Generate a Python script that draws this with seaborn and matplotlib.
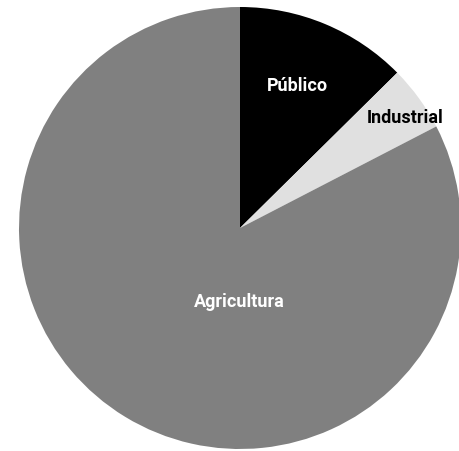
import matplotlib
matplotlib.use('Agg')
from matplotlib import pyplot as plt
import seaborn as sns

# water use share (%), clockwise from the top
sectors = ['Público', 'Industrial', 'Agricultura']
shares = [12.6, 4.8, 82.6]
colors = ['#000000', '#e0e0e0', '#808080']
label_colors = ['white', 'black', 'white']

sns.set_theme(style='white')
plt.rcParams['font.family'] = ['Roboto', 'DejaVu Sans']

fig = plt.figure(figsize=(4.6, 4.52), dpi=100)
ax = fig.add_axes([19 / 460, 2 / 452, 442 / 460, 442 / 452])

wedges, _ = ax.pie(shares, colors=colors, startangle=90, counterclock=False,
                   radius=1, wedgeprops={'linewidth': 0})

# label spots (data coords, unit circle)
label_pos = [(0.262, 0.647), (0.747, 0.502), (-0.005, -0.33)]
for name, (x, y), c in zip(sectors, label_pos, label_colors):
    ax.text(x, y, name, ha='center', va='center', color=c,
            fontsize=13, fontweight='bold')

ax.set_xlim(-1, 1)
ax.set_ylim(-1, 1)
ax.set_aspect('equal')
ax.axis('off')

fig.savefig('out.png', dpi=100)
